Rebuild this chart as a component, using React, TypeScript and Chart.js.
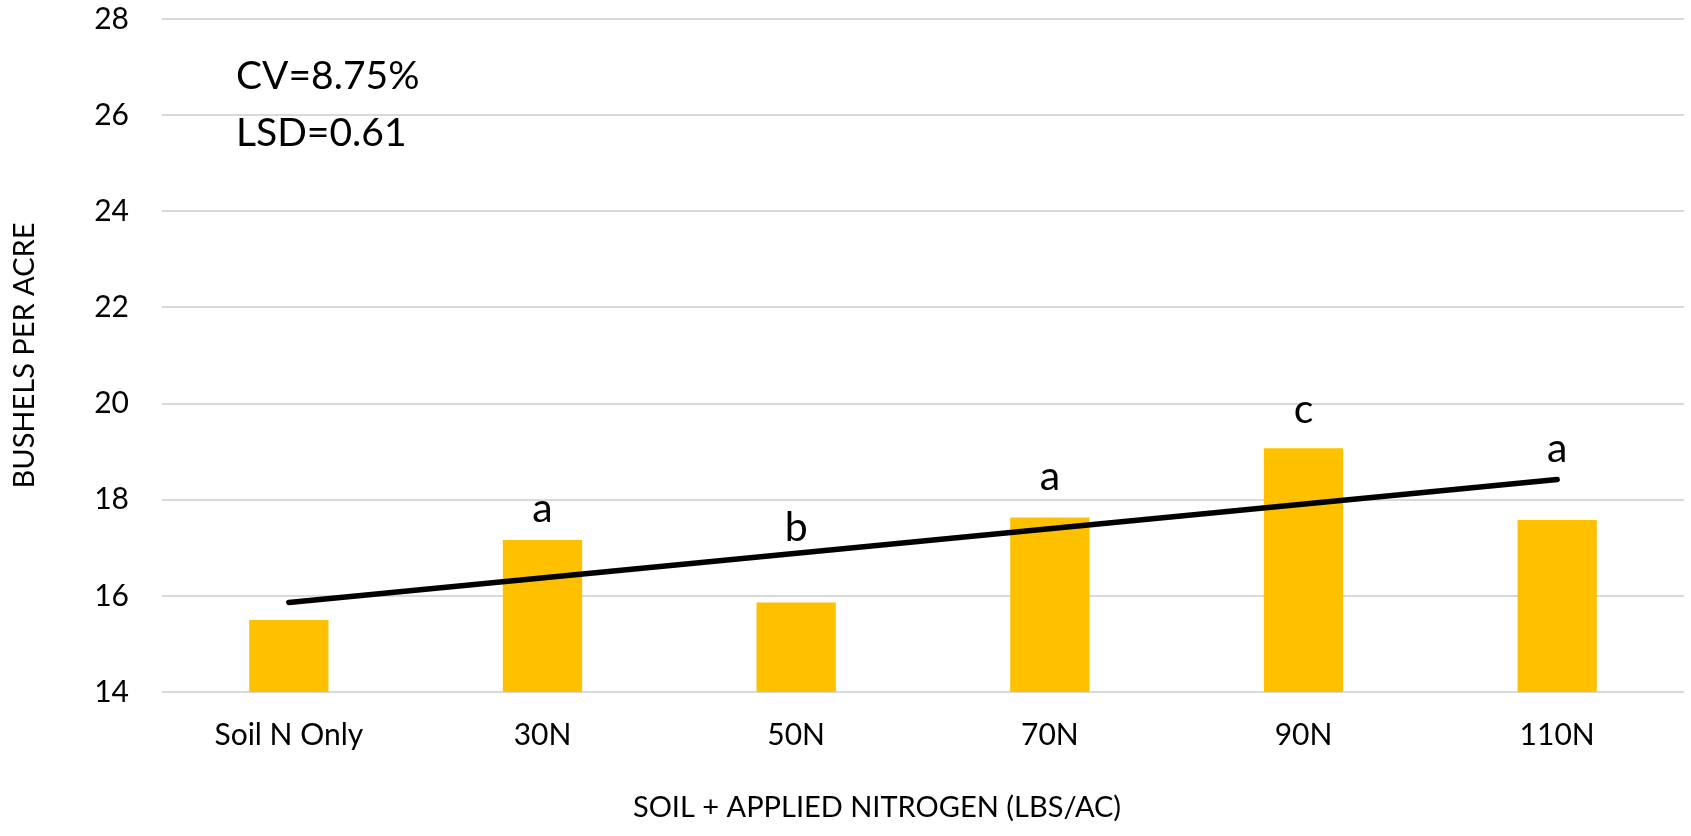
import React, { useEffect, useRef } from "react";
import { Chart, registerables } from "chart.js";

Chart.register(...registerables);

// ---- data ----
const categories = ["Soil N Only", "30N", "50N", "70N", "90N", "110N"];
const yieldValues = [15.5, 17.16, 15.86, 17.63, 19.07, 17.58];
// linear trend line: read at first and last category
const trendValues: (number | null)[] = [15.86, null, null, null, null, 18.42];
// significance letters and the value level of their baseline
const letterLabels = ["", "a", "b", "a", "c", "a"];
const letterLevels: (number | null)[] = [null, 17.54, 17.15, 18.2, 19.59, 18.79];
const statLines = ["CV=8.75%", "LSD=0.61"];
const yMin = 14;
const yMax = 28;
const yStep = 2;
const yAxisTitle = "BUSHELS PER ACRE";
const xAxisTitle = "SOIL + APPLIED NITROGEN (LBS/AC)";

const FONT = "Lato";

const annotationPlugin = {
  id: "annotations",
  afterDatasetsDraw(chart: any) {
    const { ctx, scales } = chart;
    const x = scales.x;
    const y = scales.y;
    ctx.save();
    ctx.fillStyle = "#000000";
    ctx.textBaseline = "alphabetic";
    // letters
    ctx.font = `41px ${FONT}`;
    ctx.textAlign = "center";
    letterLabels.forEach((l, i) => {
      const lv = letterLevels[i];
      if (!l || lv == null) return;
      ctx.fillText(l, x.getPixelForValue(i), y.getPixelForValue(lv));
    });
    // stats text
    ctx.textAlign = "left";
    ctx.font = `39px ${FONT}`;
    ctx.fillText(statLines[0], 236, 89);
    ctx.fillText(statLines[1], 236, 146);
    // x axis title
    ctx.font = `29px ${FONT}`;
    ctx.textAlign = "center";
    ctx.fillText(xAxisTitle, 877, 817);
    ctx.restore();
  },
};

export default function App() {
  const canvasRef = useRef<HTMLCanvasElement | null>(null);

  useEffect(() => {
    const canvas = canvasRef.current;
    if (!canvas) return;
    const chart = new Chart(canvas, {
      type: "bar",
      data: {
        labels: categories,
        datasets: [
          {
            type: "line",
            data: trendValues as any,
            borderColor: "#000000",
            borderWidth: 5.5,
            borderCapStyle: "round",
            pointRadius: 0,
            spanGaps: true,
            tension: 0,
            order: 0,
          } as any,
          {
            type: "bar",
            data: yieldValues,
            backgroundColor: "#FFC000",
            borderWidth: 0,
            categoryPercentage: 1,
            barPercentage: 0.3125,
            order: 1,
          },
        ],
      },
      options: {
        responsive: false,
        animation: false,
        layout: { padding: { top: 19, right: 7, left: 0, bottom: 0 } },
        plugins: {
          legend: { display: false },
          tooltip: { enabled: false },
          title: { display: false },
        },
        scales: {
          x: {
            grid: { display: false, drawTicks: false },
            border: { display: false },
            ticks: {
              color: "#000000",
              font: { family: FONT, size: 30 },
              padding: 25,
              maxRotation: 0,
              autoSkip: false,
            },
            afterFit(scale: any) {
              scale.height = 144;
              scale.paddingLeft = 0;
              scale.paddingRight = 0;
            },
          },
          y: {
            min: yMin,
            max: yMax,
            grid: { color: "#D9D9D9", lineWidth: 2, drawTicks: false },
            border: { display: false },
            ticks: {
              stepSize: yStep,
              color: "#000000",
              font: { family: FONT, size: 30 },
              padding: 33,
            },
            title: {
              display: true,
              text: yAxisTitle,
              color: "#000000",
              font: { family: FONT, size: 29 },
              padding: { top: 7, bottom: 0 },
            },
            afterFit(scale: any) {
              scale.width = 162;
              scale.paddingTop = 0;
              scale.paddingBottom = 0;
            },
          },
        },
      },
      plugins: [annotationPlugin],
    });
    return () => chart.destroy();
  }, []);

  return (
    <div
      style={{
        position: "absolute",
        left: 0,
        top: 0,
        width: 1691,
        height: 836,
        background: "#ffffff",
      }}
    >
      <canvas ref={canvasRef} width={1691} height={836} style={{ display: "block" }} />
    </div>
  );
}
